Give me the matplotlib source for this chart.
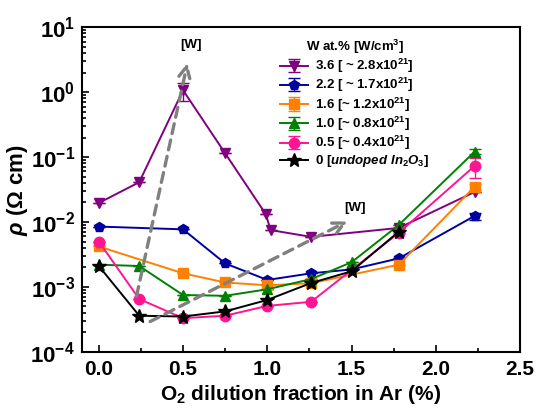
import matplotlib
matplotlib.use("Agg")
import matplotlib.pyplot as plt
from matplotlib.ticker import MultipleLocator, LogLocator, NullFormatter

plt.rcParams["font.family"] = ["Liberation Sans", "DejaVu Sans"]
plt.rcParams["font.weight"] = "bold"
plt.rcParams["mathtext.fontset"] = "custom"
plt.rcParams["mathtext.rm"] = "Liberation Sans:bold"
plt.rcParams["mathtext.it"] = "Liberation Sans:bold:italic"
plt.rcParams["mathtext.bf"] = "Liberation Sans:bold"

# O2 dilution fraction (%) and resistivity (Ohm cm) per W content
x_w36 = [0, 0.24, 0.5, 0.75, 0.99, 1.02, 1.26, 1.78, 2.23]
y_w36 = [0.0196, 0.041, 1.07, 0.114, 0.0133, 0.0075, 0.0059, 0.0081, 0.029]
err_w36 = [0, 0, 0.33, 0, 0, 0, 0, 0, 0]

x_w22 = [0, 0.5, 0.75, 1.0, 1.26, 1.5, 1.78, 2.23]
y_w22 = [0.0085, 0.0077, 0.0023, 0.00128, 0.00162, 0.00186, 0.00275, 0.0124]
err_w22 = [0, 0, 0, 0, 0, 0, 0, 0.0015]

x_w16 = [0, 0.5, 0.75, 1.0, 1.26, 1.78, 2.23]
y_w16 = [0.0042, 0.00162, 0.00117, 0.00106, 0.00114, 0.0022, 0.035]
err_w16 = [0, 0, 0, 0, 0, 0, 0.004]

x_w10 = [0, 0.24, 0.5, 0.75, 1.0, 1.26, 1.5, 1.78, 2.23]
y_w10 = [0.0022, 0.0021, 0.00075, 0.00073, 0.00092, 0.00132, 0.0024, 0.009, 0.121]
err_w10 = [0, 0, 0, 0, 0, 0, 0, 0, 0.01]

x_w05 = [0, 0.24, 0.5, 0.75, 1.0, 1.26, 1.78, 2.23]
y_w05 = [0.005, 0.00065, 0.00033, 0.00036, 0.00051, 0.00059, 0.0068, 0.073]
err_w05 = [0, 0, 0, 0, 0, 0, 0, 0.025]

x_w00 = [0, 0.24, 0.5, 0.75, 1.0, 1.26, 1.5, 1.78]
y_w00 = [0.0021, 0.00036, 0.00035, 0.00042, 0.00063, 0.00115, 0.00174, 0.0071]

labels = ["3.6 [ ~ 2.8x10$^{21}$]", "2.2 [ ~ 1.7x10$^{21}$]", "1.6 [~ 1.2x10$^{21}$]",
          "1.0 [~ 0.8x10$^{21}$]", "0.5 [~ 0.4x10$^{21}$]", "0 [$\\it{undoped\\ In_2O_3}$]"]

# gray "[W]" arrows (start, end)
arrow1 = [(0.22, 6.5e-4), (0.53, 3.1)]
arrow2 = [(0.29, 2.8e-4), (1.49, 0.0107)]

fig = plt.figure(figsize=(5.39, 4.12), dpi=100)
ax = fig.add_axes([0.152, 0.146, 0.813, 0.788])

series = [
    (x_w36, y_w36, err_w36, "#800080", "v"),
    (x_w22, y_w22, err_w22, "#0000A0", "p"),
    (x_w16, y_w16, err_w16, "#FF8000", "s"),
    (x_w10, y_w10, err_w10, "#008000", "^"),
    (x_w05, y_w05, err_w05, "#FF1493", "o"),
    (x_w00, y_w00, None, "black", "*"),
]

for (xs, ys, es, c, m), lab in zip(series, labels):
    ms = 10 if m == "*" else 7.5
    ax.errorbar(xs, ys, yerr=es, color=c, marker=m, ms=ms, mfc=c, mec=c,
                lw=1.4, capsize=4, elinewidth=1.0, label=lab)

for (p0, p1) in [arrow1, arrow2]:
    ax.annotate("", xy=p1, xytext=p0,
                arrowprops=dict(arrowstyle="->", color="gray", lw=2.4,
                                linestyle=(0, (3, 2)), mutation_scale=20))
ax.text(0.55, 4.3, "[W]", fontsize=9.5, fontweight="bold", ha="center", va="bottom")
ax.text(1.52, 0.0135, "[W]", fontsize=9.5, fontweight="bold", ha="center", va="bottom")

ax.set_yscale("log")
ax.set_ylim(1e-4, 10)
ax.set_xlim(-0.1, 2.5)
ax.xaxis.set_major_locator(MultipleLocator(0.5))
ax.xaxis.set_minor_locator(MultipleLocator(0.25))
ax.yaxis.set_major_locator(LogLocator(base=10, numticks=10))
ax.yaxis.set_minor_locator(LogLocator(base=10, subs=range(2, 10), numticks=10))
ax.yaxis.set_minor_formatter(NullFormatter())
ax.xaxis.set_major_formatter(matplotlib.ticker.FormatStrFormatter("%.1f"))
ax.tick_params(direction="in", which="both", top=False, right=False, width=1.2)
ax.tick_params(axis="x", labelsize=15, pad=6)
ax.tick_params(axis="y", labelsize=16, pad=5)
ax.tick_params(which="major", length=5)
ax.tick_params(which="minor", length=3)
for s in ax.spines.values():
    s.set_linewidth(1.5)

ax.set_xlabel("O$_2$ dilution fraction in Ar (%)", fontsize=15, fontweight="bold", labelpad=3)
ax.set_ylabel("$\\it{\\rho}$ ($\\Omega$ cm)", fontsize=16, fontweight="bold", labelpad=0)

leg = ax.legend(loc="upper right", bbox_to_anchor=(0.816, 1.0), frameon=False,
                title="W at.% [W/cm$^3$]", fontsize=9.5, handlelength=2.1,
                handletextpad=0.5, labelspacing=0.08, borderpad=0.3)
leg.get_title().set_fontweight("bold")
leg.get_title().set_fontsize(9.5)

fig.savefig("out.png", dpi=100)
